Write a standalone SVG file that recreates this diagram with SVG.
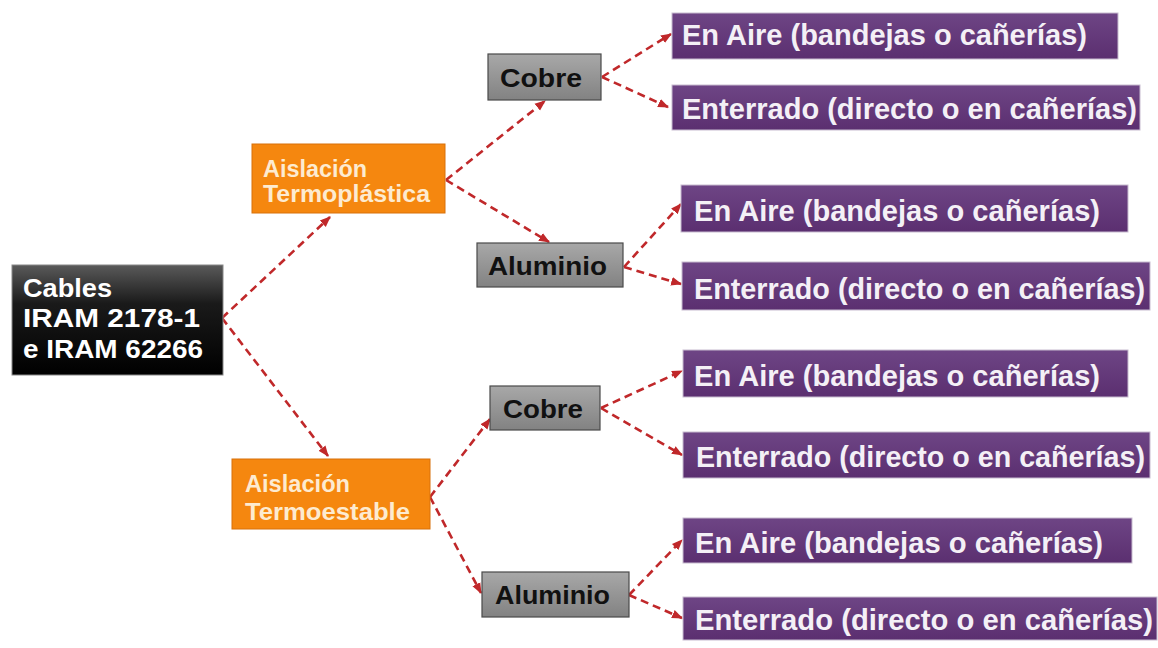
<svg xmlns="http://www.w3.org/2000/svg" width="1158" height="648" viewBox="0 0 1158 648">
<defs>
<linearGradient id="gBlack" x1="0" y1="0" x2="0" y2="1"><stop offset="0" stop-color="#5a5a5a"/><stop offset="0.35" stop-color="#1a1a1a"/><stop offset="1" stop-color="#000"/></linearGradient>
<linearGradient id="gGray" x1="0" y1="0" x2="0" y2="1"><stop offset="0" stop-color="#a8a8a8"/><stop offset="1" stop-color="#828282"/></linearGradient>
<linearGradient id="gPurple" x1="0" y1="0" x2="0" y2="1"><stop offset="0" stop-color="#6e4585"/><stop offset="1" stop-color="#5b2f70"/></linearGradient>
<marker id="arr" viewBox="0 0 10 10" refX="9" refY="5" markerWidth="11" markerHeight="11" markerUnits="userSpaceOnUse" orient="auto"><path d="M0,1 L10,5 L0,9 Z" fill="#c0282a"/></marker>
</defs>
<style>
.t{font-family:"Liberation Sans",Arial,sans-serif;font-weight:bold}
.blk{fill:url(#gBlack);stroke:#888;stroke-width:1}
.org{fill:#f5870f;stroke:#d8700a;stroke-width:1}
.gry{fill:url(#gGray);stroke:#4a4a4a;stroke-width:1.2}
.pur{fill:url(#gPurple);stroke:#c8bcd0;stroke-width:1}
.wt{fill:#ffffff;font-size:25px}
.ot{fill:#fdebd0;font-size:23px}
.gt{fill:#111;font-size:26px}
.pt{fill:#f4f0f6;font-size:29px}
.c{fill:none;stroke:#c0282a;stroke-width:2.6;stroke-dasharray:8 5;marker-end:url(#arr)}
</style>
<rect width="1158" height="648" fill="#fff"/>
<g id="connectors">
<line class="c" x1="222" y1="318" x2="330" y2="217"/>
<line class="c" x1="222" y1="318" x2="328" y2="456"/>
<line class="c" x1="446" y1="180" x2="545" y2="101"/>
<line class="c" x1="446" y1="180" x2="549" y2="242"/>
<line class="c" x1="602" y1="77" x2="671" y2="34"/>
<line class="c" x1="602" y1="77" x2="668" y2="107"/>
<line class="c" x1="624" y1="267" x2="681" y2="204"/>
<line class="c" x1="624" y1="267" x2="681" y2="284"/>
<line class="c" x1="430" y1="497" x2="490" y2="419"/>
<line class="c" x1="430" y1="497" x2="481" y2="593"/>
<line class="c" x1="601" y1="408" x2="682" y2="371"/>
<line class="c" x1="601" y1="408" x2="682" y2="455"/>
<line class="c" x1="629" y1="595" x2="682" y2="540"/>
<line class="c" x1="629" y1="595" x2="682" y2="618"/>
</g>
<g id="n-cables"><rect class="blk" x="12" y="265" width="211" height="110"/>
<text class="t wt" x="23" y="297" textLength="89" lengthAdjust="spacingAndGlyphs">Cables</text>
<text class="t wt" x="23" y="327" textLength="177" lengthAdjust="spacingAndGlyphs">IRAM 2178-1</text>
<text class="t wt" x="23" y="358" textLength="180" lengthAdjust="spacingAndGlyphs">e IRAM 62266</text></g>
<g id="n-termoplastica"><rect class="org" x="252" y="144" width="193" height="69"/>
<text class="t ot" x="263" y="177" textLength="104" lengthAdjust="spacingAndGlyphs">Aislación</text>
<text class="t ot" x="263" y="202" textLength="167" lengthAdjust="spacingAndGlyphs">Termoplástica</text></g>
<g id="n-termoestable"><rect class="org" x="232" y="459" width="198" height="70"/>
<text class="t ot" x="245" y="492" textLength="105" lengthAdjust="spacingAndGlyphs">Aislación</text>
<text class="t ot" x="245" y="520" textLength="165" lengthAdjust="spacingAndGlyphs">Termoestable</text></g>
<g id="n-cobre1"><rect class="gry" x="488" y="54" width="113" height="46"/>
<text class="t gt" x="500" y="87" textLength="82" lengthAdjust="spacingAndGlyphs">Cobre</text></g>
<g id="n-aluminio1"><rect class="gry" x="477" y="243" width="146" height="44"/>
<text class="t gt" x="488" y="275" textLength="119" lengthAdjust="spacingAndGlyphs">Aluminio</text></g>
<g id="n-cobre2"><rect class="gry" x="490" y="386" width="110" height="44"/>
<text class="t gt" x="503" y="418" textLength="80" lengthAdjust="spacingAndGlyphs">Cobre</text></g>
<g id="n-aluminio2"><rect class="gry" x="482" y="572" width="147" height="45"/>
<text class="t gt" x="495" y="604" textLength="115" lengthAdjust="spacingAndGlyphs">Aluminio</text></g>
<g id="n-aire1"><rect class="pur" x="672" y="13" width="446" height="46"/>
<text class="t pt" x="682" y="45" textLength="405" lengthAdjust="spacingAndGlyphs">En Aire (bandejas o cañerías)</text></g>
<g id="n-enterrado1"><rect class="pur" x="672" y="85" width="468" height="45"/>
<text class="t pt" x="682" y="119" textLength="455" lengthAdjust="spacingAndGlyphs">Enterrado (directo o en cañerías)</text></g>
<g id="n-aire2"><rect class="pur" x="681" y="185" width="447" height="47"/>
<text class="t pt" x="694" y="221" textLength="406" lengthAdjust="spacingAndGlyphs">En Aire (bandejas o cañerías)</text></g>
<g id="n-enterrado2"><rect class="pur" x="682" y="262" width="468" height="48"/>
<text class="t pt" x="694" y="299" textLength="451" lengthAdjust="spacingAndGlyphs">Enterrado (directo o en cañerías)</text></g>
<g id="n-aire3"><rect class="pur" x="683" y="350" width="445" height="47"/>
<text class="t pt" x="694" y="386" textLength="406" lengthAdjust="spacingAndGlyphs">En Aire (bandejas o cañerías)</text></g>
<g id="n-enterrado3"><rect class="pur" x="683" y="432" width="467" height="46"/>
<text class="t pt" x="696" y="467" textLength="449" lengthAdjust="spacingAndGlyphs">Enterrado (directo o en cañerías)</text></g>
<g id="n-aire4"><rect class="pur" x="683" y="518" width="449" height="45"/>
<text class="t pt" x="695" y="553" textLength="408" lengthAdjust="spacingAndGlyphs">En Aire (bandejas o cañerías)</text></g>
<g id="n-enterrado4"><rect class="pur" x="683" y="597" width="474" height="43"/>
<text class="t pt" x="695" y="630" textLength="458" lengthAdjust="spacingAndGlyphs">Enterrado (directo o en cañerías)</text></g>
</svg>
